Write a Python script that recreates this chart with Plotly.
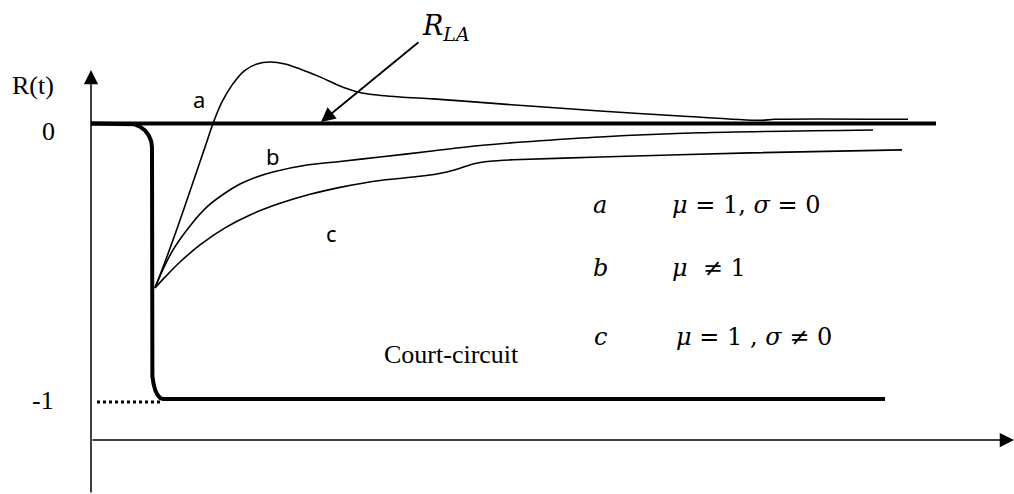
import plotly.graph_objects as go

# Normalised time axis and response R(t)
t_a = [0.64, 0.74, 0.87, 1.01, 1.14, 1.22, 1.31, 1.41, 1.53, 1.66, 1.79, 1.94, 2.09, 2.29,
       2.49, 2.64, 2.79, 3.09, 3.42, 4.09, 5.09, 5.89, 6.69, 6.84, 8.17]
r_a = [-0.597, -0.503, -0.372, -0.224, -0.086, 0.0, 0.078, 0.139, 0.190, 0.216, 0.223,
       0.216, 0.198, 0.169, 0.136, 0.117, 0.106, 0.096, 0.089, 0.071, 0.045, 0.027,
       0.011, 0.015, 0.015]

t_b = [0.64, 0.73, 0.82, 0.99, 1.16, 1.32, 1.49, 1.65, 1.82, 2.16, 2.49, 2.89, 3.39,
       3.89, 4.49, 5.09, 6.09, 7.82]
r_b = [-0.597, -0.522, -0.459, -0.372, -0.303, -0.258, -0.220, -0.195, -0.176, -0.151,
       -0.138, -0.122, -0.101, -0.080, -0.063, -0.049, -0.034, -0.024]

t_c = [0.64, 0.74, 0.89, 1.09, 1.34, 1.59, 1.89, 2.19, 2.49, 2.89, 3.29, 3.56, 3.69,
       3.82, 3.99, 4.22, 5.09, 6.59, 8.11]
r_c = [-0.597, -0.558, -0.503, -0.441, -0.379, -0.332, -0.290, -0.257, -0.232, -0.207,
       -0.192, -0.176, -0.163, -0.147, -0.137, -0.132, -0.122, -0.107, -0.096]

# Short-circuit response: drops from 0 to -1 with rounded corners
t_cc = [0.0, 0.37, 0.432, 0.49, 0.54, 0.578, 0.602, 0.61,
        0.61, 0.614, 0.625, 0.642, 0.665, 0.692, 0.72, 7.94]
r_cc = [0.0, 0.0, -0.003, -0.012, -0.025, -0.044, -0.065, -0.085,
        -0.888, -0.917, -0.944, -0.968, -0.985, -0.997, -1.0, -1.0]

# Asymptotic level R_LA
t_la = [0.0, 8.45]
r_la = [0.0, 0.0]

# Dotted guide at R = -1
t_dot = [0.06, 0.72]
r_dot = [-1.011, -1.011]

# Axis extents
t_axis = [0.0, 9.23]
r_axis = [-1.345, 0.194]
r_time_axis = -1.149

legend_letters = ["a", "b", "c"]
legend_texts = ["<i>μ</i> = 1, <i>σ</i> = 0", "<i>μ</i>  ≠ 1", "<i>μ</i> = 1 , <i>σ</i> ≠ 0"]

W, H = 1014, 494
SERIF = "Liberation Serif"
MATH = "DejaVu Serif"
SANS = "Noto Sans"

fig = go.Figure()

thin = dict(color="black", width=1.6)
fig.add_trace(go.Scatter(x=t_a, y=r_a, mode="lines", line=dict(shape="spline", smoothing=0.8, **thin)))
fig.add_trace(go.Scatter(x=t_b, y=r_b, mode="lines", line=dict(shape="spline", smoothing=0.8, **thin)))
fig.add_trace(go.Scatter(x=t_c, y=r_c, mode="lines", line=dict(shape="spline", smoothing=0.8, **thin)))
fig.add_trace(go.Scatter(x=t_la, y=r_la, mode="lines", line=dict(color="black", width=4)))
fig.add_trace(go.Scatter(x=t_cc, y=r_cc, mode="lines", line=dict(color="black", width=4)))
fig.add_trace(go.Scatter(x=t_dot, y=r_dot, mode="lines", line=dict(color="black", width=3, dash="dot")))


def px(x, y):
    """Pixel position on the page -> paper coordinates."""
    return x / W, 1 - y / H


annotations = []

# Axes with arrowheads
annotations.append(dict(x=t_axis[0], y=r_axis[1], ax=t_axis[0], ay=r_axis[0], xref="x", yref="y",
                        axref="x", ayref="y", text="", showarrow=True, arrowhead=2,
                        arrowwidth=1.5, arrowsize=1.9, arrowcolor="black"))
annotations.append(dict(x=t_axis[1], y=r_time_axis, ax=t_axis[0], ay=r_time_axis, xref="x", yref="y",
                        axref="x", ayref="y", text="", showarrow=True, arrowhead=2,
                        arrowwidth=1.5, arrowsize=1.9, arrowcolor="black"))
# Pointer to R_LA
annotations.append(dict(x=2.30, y=0.005, ax=3.29, ay=0.299, xref="x", yref="y",
                        axref="x", ayref="y", text="", showarrow=True, arrowhead=2,
                        arrowwidth=1.8, arrowsize=1.6, arrowcolor="black"))


def label(text, x, y, font, size, anchor="center", italic=False):
    xp, yp = px(x, y)
    annotations.append(dict(x=xp, y=yp, xref="paper", yref="paper", text=text, showarrow=False,
                            xanchor=anchor, yanchor="middle",
                            font=dict(family=font, size=size, color="black",
                                      style="italic" if italic else "normal")))


label("R(t)", 33, 85, SERIF, 26)
label("0", 48, 131, SERIF, 26)
label("-1", 43, 400, SERIF, 26)
label("<i>R</i><sub><i>LA</i></sub>", 446, 28, MATH, 27)
label("a", 199, 99, SANS, 22)
label("b", 273, 156, SANS, 22)
label("c", 331, 233, SANS, 22)
label("Court-circuit", 382, 354, SERIF, 26, anchor="left")

rows_y = [205, 268, 337]
for letter, text, y, xl in zip(legend_letters, legend_texts, rows_y, [670, 670, 674]):
    label(letter, 600, y, MATH, 24, italic=True)
    label(text, xl, y, MATH, 24, anchor="left")

fig.update_layout(
    width=W, height=H,
    margin=dict(l=0, r=0, t=0, b=0),
    paper_bgcolor="white", plot_bgcolor="white",
    showlegend=False,
    xaxis=dict(range=[-0.91, 9.23], visible=False, fixedrange=True),
    yaxis=dict(range=[-1.345, 0.448], visible=False, fixedrange=True),
    annotations=annotations,
)

fig.write_html("out.html")
